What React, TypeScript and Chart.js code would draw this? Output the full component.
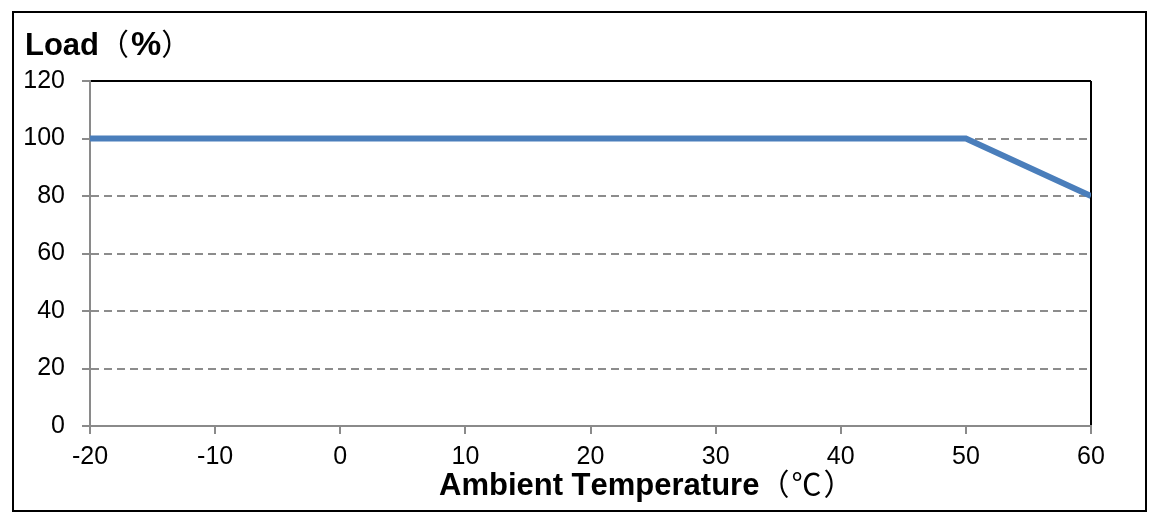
import React, { useEffect, useRef } from "react";
import { Chart, registerables } from "chart.js";

Chart.register(...registerables);

const temps = [-20, 50, 60];
const loads = [100, 100, 80];
const xTicks = [-20, -10, 0, 10, 20, 30, 40, 50, 60];
const yTicks = [0, 20, 40, 60, 80, 100, 120];
const yTitle = "Load（%）";
const xTitle = "Ambient Temperature（℃）";

const FONT = "'Liberation Sans', Arial, 'Noto Sans CJK SC', sans-serif";
const CJK = "'Noto Sans CJK SC', 'Liberation Sans', sans-serif";
const AXIS_GRAY = "#8a8a8a";
const THIN = "（）℃";

// bold latin text, thin full-width brackets and degree sign
function drawTitle(ctx: CanvasRenderingContext2D, text: string, x: number, y: number) {
  let cx = x;
  for (const ch of Array.from(text)) {
    if (THIN.includes(ch)) {
      ctx.font = `normal 30px ${CJK}`;
    } else if (ch === "%") {
      ctx.font = `bold 34px ${FONT}`;
    } else {
      ctx.font = `bold 31px ${FONT}`;
    }
    ctx.fillText(ch, cx, y);
    cx += ctx.measureText(ch).width + (THIN.includes(ch) ? 2 : 0);
  }
}

const titlesPlugin = {
  id: "titles",
  afterDraw(chart: any) {
    const { ctx } = chart;
    ctx.save();
    ctx.fillStyle = "#000";
    ctx.textAlign = "left";
    ctx.textBaseline = "alphabetic";
    drawTitle(ctx, yTitle, 25, 55);
    drawTitle(ctx, xTitle, 439, 495);
    ctx.restore();
  },
};

const App: React.FC = () => {
  const canvasRef = useRef<HTMLCanvasElement | null>(null);

  useEffect(() => {
    if (!canvasRef.current) return;
    const ctx = canvasRef.current.getContext("2d");
    if (!ctx) return;

    const chart = new Chart(ctx, {
      type: "line",
      data: {
        datasets: [
          {
            data: temps.map((t, i) => ({ x: t, y: loads[i] })),
            borderColor: "#4a7ebb",
            borderWidth: 6,
            pointRadius: 0,
            tension: 0,
          },
        ],
      },
      options: {
        animation: false,
        responsive: false,
        maintainAspectRatio: false,
        layout: { padding: { top: 81, right: 63, left: 0, bottom: 0 } },
        plugins: {
          legend: { display: false },
          tooltip: { enabled: false },
        },
        scales: {
          x: {
            type: "linear",
            min: -20,
            max: 60,
            afterBuildTicks: (scale: any) => {
              scale.ticks = xTicks.map((v) => ({ value: v }));
            },
            afterFit: (scale: any) => {
              scale.height = 90;
            },
            ticks: {
              color: "#000",
              font: { family: FONT, size: 25 },
              padding: 8,
              maxRotation: 0,
              autoSkip: false,
            },
            grid: {
              color: (c: any) => (c.tick && c.tick.value === 60 ? "#000" : "rgba(0,0,0,0)"),
              lineWidth: 2,
              tickColor: AXIS_GRAY,
              tickLength: 8,
              tickWidth: 2,
            },
            border: { color: AXIS_GRAY, width: 2 },
          },
          y: {
            min: 0,
            max: 120,
            afterBuildTicks: (scale: any) => {
              scale.ticks = yTicks.map((v) => ({ value: v }));
            },
            afterFit: (scale: any) => {
              scale.width = 90;
            },
            ticks: {
              color: "#000",
              font: { family: FONT, size: 25 },
              padding: 17,
            },
            grid: {
              color: (c: any) =>
                c.tick && c.tick.value === 120
                  ? "#000"
                  : c.tick && c.tick.value === 0
                  ? AXIS_GRAY
                  : "#8c8c8c",
              lineWidth: 2,
              tickColor: AXIS_GRAY,
              tickLength: 8,
              tickWidth: 2,
              tickBorderDash: [],
            },
            border: {
              color: AXIS_GRAY,
              width: 2,
              dash: (c: any) =>
                c.tick && c.tick.value > 0 && c.tick.value < 120 ? [8, 5] : [],
            },
          },
        },
      },
      plugins: [titlesPlugin],
    });

    return () => {
      chart.destroy();
    };
  }, []);

  return (
    <div style={{ position: "absolute", left: 0, top: 0, width: 1154, height: 516, background: "#fff" }}>
      <div
        style={{
          position: "absolute",
          left: 12,
          top: 11,
          width: 1135,
          height: 501,
          border: "2px solid #000",
          boxSizing: "border-box",
        }}
      />
      <canvas
        ref={canvasRef}
        width={1154}
        height={516}
        style={{ position: "absolute", left: 0, top: 0 }}
      />
    </div>
  );
};

export default App;
